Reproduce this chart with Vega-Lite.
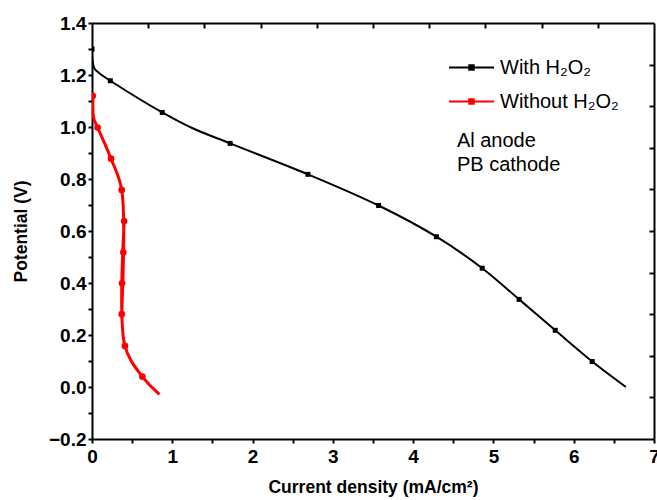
{
  "$schema": "https://vega.github.io/schema/vega-lite/v6.json",
  "width": 562,
  "height": 416,
  "autosize": {"type": "none"},
  "padding": {"left": 92, "top": 23, "right": 3, "bottom": 61},
  "background": "white",
  "config": {
    "view": {"stroke": null},
    "font": "Liberation Sans",
    "axis": {
      "domainColor": "black", "domainWidth": 2, "tickColor": "black", "tickWidth": 2,
      "labelFont": "Liberation Sans", "labelFontWeight": "bold", "labelFontSize": 19, "labelColor": "black",
      "titleFont": "Liberation Sans", "titleFontWeight": "bold", "titleFontSize": 17.5, "titleColor": "black",
      "grid": false
    }
  },
  "datasets": {
    "curves": [
      {"series": "With H₂O₂", "x": 0.0, "y": 1.30},
      {"series": "With H₂O₂", "x": 0.005, "y": 1.26},
      {"series": "With H₂O₂", "x": 0.03, "y": 1.225},
      {"series": "With H₂O₂", "x": 0.1, "y": 1.205},
      {"series": "With H₂O₂", "x": 0.228, "y": 1.178},
      {"series": "With H₂O₂", "x": 0.875, "y": 1.056},
      {"series": "With H₂O₂", "x": 1.24, "y": 0.997},
      {"series": "With H₂O₂", "x": 1.72, "y": 0.937},
      {"series": "With H₂O₂", "x": 2.69, "y": 0.818},
      {"series": "With H₂O₂", "x": 3.57, "y": 0.698},
      {"series": "With H₂O₂", "x": 4.29, "y": 0.578},
      {"series": "With H₂O₂", "x": 4.86, "y": 0.457},
      {"series": "With H₂O₂", "x": 5.32, "y": 0.337},
      {"series": "With H₂O₂", "x": 5.77, "y": 0.218},
      {"series": "With H₂O₂", "x": 6.23, "y": 0.098},
      {"series": "With H₂O₂", "x": 6.65, "y": 0.0},
      {"series": "Without H₂O₂", "x": 0.01, "y": 1.12},
      {"series": "Without H₂O₂", "x": 0.005, "y": 1.07},
      {"series": "Without H₂O₂", "x": 0.02, "y": 1.035},
      {"series": "Without H₂O₂", "x": 0.07, "y": 0.998},
      {"series": "Without H₂O₂", "x": 0.237, "y": 0.878},
      {"series": "Without H₂O₂", "x": 0.37, "y": 0.758},
      {"series": "Without H₂O₂", "x": 0.40, "y": 0.638},
      {"series": "Without H₂O₂", "x": 0.39, "y": 0.518},
      {"series": "Without H₂O₂", "x": 0.374, "y": 0.399},
      {"series": "Without H₂O₂", "x": 0.37, "y": 0.28},
      {"series": "Without H₂O₂", "x": 0.41, "y": 0.158},
      {"series": "Without H₂O₂", "x": 0.627, "y": 0.04},
      {"series": "Without H₂O₂", "x": 0.84, "y": -0.028}
    ],
    "markers": [
      {"series": "With H₂O₂", "x": 0.0, "y": 1.30},
      {"series": "With H₂O₂", "x": 0.228, "y": 1.178},
      {"series": "With H₂O₂", "x": 0.875, "y": 1.056},
      {"series": "With H₂O₂", "x": 1.72, "y": 0.937},
      {"series": "With H₂O₂", "x": 2.69, "y": 0.818},
      {"series": "With H₂O₂", "x": 3.57, "y": 0.698},
      {"series": "With H₂O₂", "x": 4.29, "y": 0.578},
      {"series": "With H₂O₂", "x": 4.86, "y": 0.457},
      {"series": "With H₂O₂", "x": 5.32, "y": 0.337},
      {"series": "With H₂O₂", "x": 5.77, "y": 0.218},
      {"series": "With H₂O₂", "x": 6.23, "y": 0.098},
      {"series": "Without H₂O₂", "x": 0.01, "y": 1.12},
      {"series": "Without H₂O₂", "x": 0.07, "y": 0.998},
      {"series": "Without H₂O₂", "x": 0.237, "y": 0.878},
      {"series": "Without H₂O₂", "x": 0.37, "y": 0.758},
      {"series": "Without H₂O₂", "x": 0.40, "y": 0.638},
      {"series": "Without H₂O₂", "x": 0.39, "y": 0.518},
      {"series": "Without H₂O₂", "x": 0.374, "y": 0.399},
      {"series": "Without H₂O₂", "x": 0.37, "y": 0.28},
      {"series": "Without H₂O₂", "x": 0.41, "y": 0.158},
      {"series": "Without H₂O₂", "x": 0.627, "y": 0.04}
    ],
    "notes": [
      {"label": "Al anode", "x": 4.545, "y": 0.946},
      {"label": "PB cathode", "x": 4.545, "y": 0.854}
    ]
  },
  "resolve": {"axis": {"x": "independent", "y": "independent"}},
  "layer": [
    {
      "data": {"name": "curves"},
      "transform": [{"filter": "datum.series === 'With H₂O₂'"}],
      "mark": {"type": "line", "interpolate": "catmull-rom", "strokeWidth": 2, "clip": true},
      "encoding": {
        "x": {"field": "x", "type": "quantitative",
              "scale": {"domain": [0, 7], "nice": false, "zero": false},
              "axis": {"title": "Current density (mA/cm²)", "orient": "bottom", "values": [0,0.5,1,1.5,2,2.5,3,3.5,4,4.5,5,5.5,6,6.5,7],
                       "labelExpr": "datum.value % 1 === 0 ? format(datum.value, 'd') : ''", "tickSize": 4, "labelPadding": 4, "titlePadding": 12, "labelFlush": false}},
        "y": {"field": "y", "type": "quantitative",
              "scale": {"domain": [-0.2, 1.4], "nice": false, "zero": false},
              "axis": {"title": "Potential (V)", "orient": "left", "values": [-0.2,-0.1,0,0.1,0.2,0.3,0.4,0.5,0.6,0.7,0.8,0.9,1.0,1.1,1.2,1.3,1.4],
                       "labelExpr": "abs(round(datum.value*10)) % 2 === 0 ? format(datum.value, '.1f') : ''", "tickSize": 4, "labelPadding": 2, "titlePadding": 18, "labelFlush": false}},
        "color": {"field": "series", "type": "nominal",
                  "scale": {"domain": ["With H₂O₂", "Without H₂O₂"], "range": ["#000000", "#ff0000"]},
                  "legend": {"title": null, "orient": "none", "legendX": 356, "legendY": 21,
                             "symbolType": "M-1,0H1M-0.1,-0.1H0.1V0.1H-0.1Z", "symbolSize": 2025, "symbolStrokeWidth": 2,
                             "labelFont": "Liberation Sans", "labelFontSize": 20, "labelColor": "black", "labelOffset": 5, "rowPadding": -5,
                             "encode": {"symbols": {"update": {"fill": {"scale": "color", "field": "value"}}}}}}
      }
    },
    {
      "data": {"name": "curves"},
      "transform": [{"filter": "datum.series === 'Without H₂O₂'"}],
      "mark": {"type": "line", "interpolate": "catmull-rom", "strokeWidth": 3, "color": "#ff0000", "clip": true},
      "encoding": {
        "x": {"field": "x", "type": "quantitative", "axis": null},
        "y": {"field": "y", "type": "quantitative", "axis": null}
      }
    },
    {
      "data": {"name": "markers"},
      "transform": [{"filter": "datum.series === 'With H₂O₂'"}],
      "mark": {"type": "point", "shape": "square", "filled": true, "opacity": 1, "size": 25, "color": "#000000", "clip": true},
      "encoding": {
        "x": {"field": "x", "type": "quantitative",
              "axis": {"orient": "top", "title": null, "labels": false, "values": [0.7,1.4,2.1,2.8,3.5,4.2,4.9,5.6,6.3], "tickSize": -5}},
        "y": {"field": "y", "type": "quantitative",
              "axis": {"orient": "right", "title": null, "labels": false, "values": [-0.04,0.12,0.28,0.44,0.60,0.76,0.92,1.08,1.24], "tickSize": -5}}
      }
    },
    {
      "data": {"name": "markers"},
      "transform": [{"filter": "datum.series === 'Without H₂O₂'"}],
      "mark": {"type": "point", "shape": "circle", "filled": true, "opacity": 1, "size": 45, "color": "#ff0000", "clip": true},
      "encoding": {
        "x": {"field": "x", "type": "quantitative", "axis": null},
        "y": {"field": "y", "type": "quantitative", "axis": null}
      }
    },
    {
      "data": {"name": "notes"},
      "mark": {"type": "text", "align": "left", "baseline": "middle", "fontSize": 20, "font": "Liberation Sans", "color": "black"},
      "encoding": {
        "x": {"field": "x", "type": "quantitative", "axis": null},
        "y": {"field": "y", "type": "quantitative", "axis": null},
        "text": {"field": "label"}
      }
    }
  ]
}
